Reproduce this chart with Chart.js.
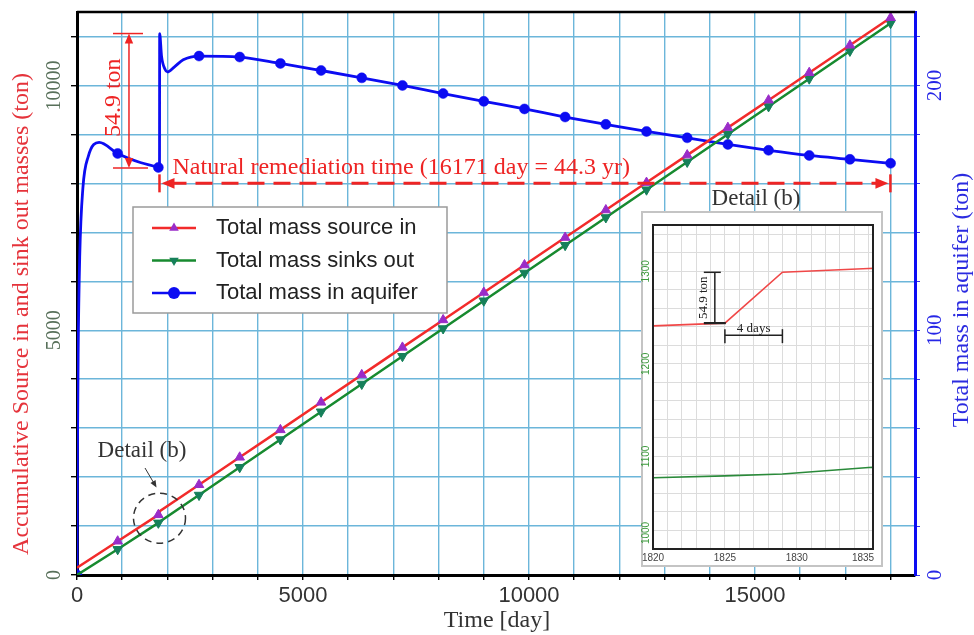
<!DOCTYPE html>
<html>
<head>
<meta charset="utf-8">
<script src="https://cdn.jsdelivr.net/npm/chart.js@4.4.1/dist/chart.umd.min.js"></script>
<style>
  body { margin: 0; background: #fff; }
  #wrap { position: relative; width: 974px; height: 635px; }
  #mainChart { position: absolute; left: 0; top: 0; }
  #detailChart { position: absolute; left: 641px; top: 211px; }
</style>
</head>
<body>
<div id="wrap">
  <canvas id="mainChart" width="974" height="635"></canvas>
  <canvas id="detailChart" width="242" height="356"></canvas>
</div>
<script>
// time axis (days) shared by the source-in and sink-out curves
const days = [0, 900, 1800, 1820, 1825, 1829, 1835, 2700, 3600, 4500, 5400, 6300, 7200, 8100, 9000, 9900, 10800, 11700, 12600, 13500, 14400, 15300, 16200, 17100, 18000];
// accumulated masses, ton
const sourceIn = [150, 690, 1229, 1241, 1244, 1299, 1303, 1843, 2404, 2965, 3527, 4088, 4649, 5210, 5771, 6332, 6893, 7455, 8016, 8577, 9138, 9699, 10260, 10821, 11383];
const sinksOut = [0, 525, 1065, 1077, 1079, 1081, 1088, 1633, 2200, 2767, 3334, 3901, 4468, 5035, 5602, 6169, 6736, 7303, 7870, 8437, 9004, 9571, 10138, 10705, 11272];

// mass stored in the aquifer, ton (right axis)
const aquiferDays = [0, 10, 25, 60, 130, 250, 490, 900, 1400, 1800, 1825, 1829, 1870, 1950, 2000, 2150, 2350, 2700, 3600, 4500, 5400, 6300, 7200, 8100, 9000, 9900, 10800, 11700, 12600, 13500, 14400, 15300, 16200, 17100, 18000];
const aquiferMass = [0, 50, 90, 130, 158, 171, 176.7, 172.2, 168.5, 166.5, 166.3, 221.2, 212.0, 206.5, 205.5, 207.5, 210.5, 212.0, 211.6, 209.0, 206.1, 203.1, 200.0, 196.7, 193.5, 190.4, 187.1, 184.1, 181.2, 178.6, 175.9, 173.5, 171.4, 169.8, 168.2];

// days that carry a symbol
const markerDays = [900, 1800, 2700, 3600, 4500, 5400, 6300, 7200, 8100, 9000, 9900, 10800, 11700, 12600, 13500, 14400, 15300, 16200, 17100, 18000];

// tick labels
const dayTickLabels = [0, 5000, 10000, 15000];
const massTickLabels = [0, 5000, 10000];
const aquiferTickLabels = [0, 100, 200];
const detailDayLabels = [1820, 1825, 1830, 1835];
const detailMassLabels = [1000, 1100, 1200, 1300];

// source pulse and remediation period
const jumpDay = 1825;
const jumpEndDay = 1829;
const jumpTon = 54.9;
const remediationDays = 16171;
const remediationYears = 44.3;
const arrowLevel = 8000;

const serif = '"Liberation Serif", "Times New Roman", serif';
const sans = '"Liberation Sans", Arial, sans-serif';
const gridBlue = 'rgb(108, 182, 218)';
const redLine = '#f22b2b';
const greenLine = '#178a2f';
const blueLine = '#0c0cf2';
const annotRed = '#ee2424';

function range(start, stop, step) {
  const out = [];
  for (let v = start; v <= stop + 1e-9; v += step) out.push(v);
  return out;
}

const toXY = (xs, ys) => xs.map((x, i) => ({ x: x, y: ys[i] }));

function rotatedText(ctx, text, x, y, font, color) {
  ctx.save();
  ctx.translate(x, y);
  ctx.rotate(-Math.PI / 2);
  ctx.font = font;
  ctx.fillStyle = color;
  ctx.textAlign = 'center';
  ctx.textBaseline = 'middle';
  ctx.fillText(text, 0, 0);
  ctx.restore();
}

function plainText(ctx, text, x, y, font, color, align) {
  ctx.font = font;
  ctx.fillStyle = color;
  ctx.textAlign = align || 'center';
  ctx.textBaseline = 'middle';
  ctx.fillText(text, x, y);
}

// filled arrow head with its tip at (x, y), pointing along angle
function arrowHead(ctx, x, y, angle, size, color) {
  ctx.save();
  ctx.translate(x, y);
  ctx.rotate(angle);
  ctx.fillStyle = color;
  ctx.beginPath();
  ctx.moveTo(0, 0);
  ctx.lineTo(-size, -size * 0.42);
  ctx.lineTo(-size, size * 0.42);
  ctx.closePath();
  ctx.fill();
  ctx.restore();
}

function line(ctx, x1, y1, x2, y2) {
  ctx.beginPath();
  ctx.moveTo(x1, y1);
  ctx.lineTo(x2, y2);
  ctx.stroke();
}

function drawMarker(ctx, style, x, y, r, color) {
  ctx.fillStyle = color;
  ctx.beginPath();
  if (style === 'circle') {
    ctx.arc(x, y, r, 0, Math.PI * 2);
  } else {
    const dir = style === 'down' ? -1 : 1;
    ctx.moveTo(x, y - dir * r);
    ctx.lineTo(x + r * 0.87, y + dir * r * 0.5);
    ctx.lineTo(x - r * 0.87, y + dir * r * 0.5);
    ctx.closePath();
  }
  ctx.fill();
}

const markerRadius = (r, extra) => (c) => {
  const d = c.raw && c.raw.x;
  return markerDays.includes(d) || (extra && extra.includes(d)) ? r : 0;
};

const legendRows = [
  { style: 'up', fill: '#9a2cc8' },
  { style: 'down', fill: '#16805a' },
  { style: 'circle', fill: blueLine }
];

const mainDecor = {
  id: 'mainDecor',
  afterDraw(chart) {
    const ctx = chart.ctx;
    const area = chart.chartArea;
    const xs = chart.scales.x, ys = chart.scales.y, ys2 = chart.scales.y2;
    ctx.save();

    // top frame
    ctx.strokeStyle = '#000';
    ctx.lineWidth = 2.5;
    line(ctx, area.left, area.top, area.right, area.top);

    // vertical tick labels
    massTickLabels.forEach(v => rotatedText(ctx, String(v), 55, ys.getPixelForValue(v), '20px ' + serif, '#58705a'));
    aquiferTickLabels.forEach(v => rotatedText(ctx, String(v), 935, ys2.getPixelForValue(v), '21px ' + serif, '#2626e6'));

    // axis titles
    rotatedText(ctx, 'Accumulative Source in and sink out masses (ton)', 22, 314, '24px ' + serif, '#e5333b');
    rotatedText(ctx, 'Total mass in aquifer (ton)', 962, 300, '24px ' + serif, '#2b2be0');
    plainText(ctx, 'Time [day]', 497, 621, '24px ' + serif, '#333');

    // jump of the aquifer mass at the source pulse
    const before = aquiferMass[aquiferDays.indexOf(jumpDay)];
    const after = aquiferMass[aquiferDays.indexOf(jumpEndDay)];
    const jx = xs.getPixelForValue(1150);
    const yTop = ys2.getPixelForValue(after);
    const yBot = ys2.getPixelForValue(before);
    ctx.strokeStyle = annotRed;
    ctx.lineWidth = 1.5;
    line(ctx, jx, yTop + 6, jx, yBot - 6);
    line(ctx, jx - 16, yTop, jx + 14, yTop);
    line(ctx, jx - 16, yBot, jx + 19, yBot);
    arrowHead(ctx, jx, yTop, -Math.PI / 2, 10, annotRed);
    arrowHead(ctx, jx, yBot, Math.PI / 2, 10, annotRed);
    rotatedText(ctx, jumpTon + ' ton', jx - 15, (yTop + yBot) / 2 - 3, '24px ' + serif, annotRed);

    // natural remediation period
    const ay = ys.getPixelForValue(arrowLevel);
    const x1 = xs.getPixelForValue(jumpDay);
    const x2 = xs.getPixelForValue(jumpDay + remediationDays);
    ctx.lineWidth = 3;
    ctx.setLineDash([17, 9]);
    line(ctx, x1 + 10, ay, x2 - 10, ay);
    ctx.setLineDash([]);
    arrowHead(ctx, x1 + 2, ay, Math.PI, 13, annotRed);
    arrowHead(ctx, x2 - 2, ay, 0, 13, annotRed);
    ctx.lineWidth = 2.5;
    line(ctx, x1, ay - 9, x1, ay + 9);
    line(ctx, x2, ay - 9, x2, ay + 9);
    plainText(ctx, 'Natural remediation time (' + remediationDays + ' day = ' + remediationYears + ' yr)',
      x1 + 13, ay - 16, '24px ' + serif, annotRed, 'left');

    // legend
    ctx.fillStyle = '#fff';
    ctx.fillRect(133, 207, 314, 106);
    ctx.strokeStyle = '#9a9a9a';
    ctx.lineWidth = 1.5;
    ctx.strokeRect(133, 207, 314, 106);
    chart.data.datasets.forEach((ds, i) => {
      const ry = 228 + i * 32.5;
      ctx.strokeStyle = ds.borderColor;
      ctx.lineWidth = 2.5;
      line(ctx, 152, ry, 196, ry);
      drawMarker(ctx, legendRows[i].style, 174, ry, i === 2 ? 6 : 5.5, legendRows[i].fill);
      plainText(ctx, ds.label, 216, ry, '22px ' + sans, '#222', 'left');
    });

    // callout around the pulse
    const cx = xs.getPixelForValue(jumpDay);
    const cy = ys.getPixelForValue((sourceIn[days.indexOf(jumpDay)] + sinksOut[days.indexOf(jumpDay)]) / 2);
    ctx.strokeStyle = '#333';
    ctx.lineWidth = 1.5;
    ctx.setLineDash([7, 5]);
    ctx.beginPath();
    ctx.ellipse(cx, cy, 26, 25, 0, 0, Math.PI * 2);
    ctx.stroke();
    ctx.setLineDash([]);
    ctx.lineWidth = 1;
    line(ctx, 145, 468, 155, 485);
    arrowHead(ctx, 156.5, 487.5, Math.atan2(19, 11), 7, '#333');
    plainText(ctx, 'Detail (b)', 142, 451, '23px ' + serif, '#333');
    plainText(ctx, 'Detail (b)', 756, 199, '23px ' + serif, '#333');

    ctx.restore();
  }
};

new Chart(document.getElementById('mainChart'), {
  type: 'line',
  data: {
    datasets: [
      {
        label: 'Total mass source in',
        data: toXY(days, sourceIn),
        yAxisID: 'y',
        borderColor: redLine,
        borderWidth: 2.5,
        pointStyle: 'triangle',
        pointBackgroundColor: '#9a2cc8',
        pointBorderColor: '#9a2cc8',
        pointBorderWidth: 1,
        pointRadius: markerRadius(5.5),
        tension: 0
      },
      {
        label: 'Total mass sinks out',
        data: toXY(days, sinksOut),
        yAxisID: 'y',
        borderColor: greenLine,
        borderWidth: 2.5,
        pointStyle: 'triangle',
        pointRotation: 180,
        pointBackgroundColor: '#16805a',
        pointBorderColor: '#16805a',
        pointBorderWidth: 1,
        pointRadius: markerRadius(5.5),
        tension: 0
      },
      {
        label: 'Total mass in aquifer',
        data: toXY(aquiferDays, aquiferMass),
        yAxisID: 'y2',
        borderColor: blueLine,
        borderWidth: 2.8,
        pointStyle: 'circle',
        pointBackgroundColor: blueLine,
        pointBorderColor: blueLine,
        pointBorderWidth: 0.5,
        pointRadius: markerRadius(5, [0]),
        cubicInterpolationMode: 'monotone'
      }
    ]
  },
  options: {
    responsive: false,
    animation: false,
    layout: { padding: { top: 12, left: 0, right: 0, bottom: 0 } },
    scales: {
      x: {
        type: 'linear',
        min: 0,
        max: 18540,
        afterBuildTicks: s => { s.ticks = range(0, 18000, 1000).map(v => ({ value: v })); },
        afterFit: s => { s.height = 60; },
        ticks: {
          autoSkip: false,
          maxRotation: 0,
          padding: 3,
          color: '#333',
          font: { family: sans, size: 22 },
          callback: v => dayTickLabels.includes(v) ? String(v) : ''
        },
        grid: { color: gridBlue, lineWidth: 1.4, tickLength: 5, tickColor: '#000' },
        border: { color: '#000', width: 3 }
      },
      y: {
        position: 'left',
        min: 0,
        max: 11500,
        afterBuildTicks: s => { s.ticks = range(0, 11000, 1000).map(v => ({ value: v })); },
        afterFit: s => { s.width = 77; },
        ticks: { display: false },
        grid: { color: gridBlue, lineWidth: 1.4, tickLength: 6, tickColor: '#000' },
        border: { color: '#000', width: 3 }
      },
      y2: {
        position: 'right',
        min: 0,
        max: 230,
        afterBuildTicks: s => { s.ticks = range(0, 220, 20).map(v => ({ value: v })); },
        afterFit: s => { s.width = 59; },
        ticks: { display: false },
        grid: { drawOnChartArea: false, tickLength: 5, tickColor: '#3a3ae8', color: gridBlue },
        border: { color: blueLine, width: 3 }
      }
    },
    plugins: {
      legend: { display: false },
      tooltip: { enabled: false }
    }
  },
  plugins: [mainDecor]
});

// ---- detail (b): source pulse between day 1820 and 1835 ----
const detailDecor = {
  id: 'detailDecor',
  beforeDraw(chart) {
    const ctx = chart.ctx;
    ctx.save();
    ctx.fillStyle = '#fff';
    ctx.fillRect(0, 0, chart.width, chart.height);
    ctx.strokeStyle = '#c4c4c4';
    ctx.lineWidth = 2;
    ctx.strokeRect(1, 1, chart.width - 2, chart.height - 2);
    ctx.restore();
  },
  afterDraw(chart) {
    const ctx = chart.ctx;
    const area = chart.chartArea;
    const xs = chart.scales.x, ys = chart.scales.y;
    ctx.save();
    ctx.strokeStyle = '#222';
    ctx.lineWidth = 2;
    ctx.strokeRect(area.left, area.top, area.right - area.left, area.bottom - area.top);

    detailMassLabels.forEach(v => {
      const py = Math.min(ys.getPixelForValue(v), area.bottom - 16);
      rotatedText(ctx, String(v), 5.5, py, '10px ' + sans, '#3c9a3c');
    });
    detailDayLabels.forEach(v => {
      let px = xs.getPixelForValue(v);
      px = Math.min(px, chart.width - 20);
      plainText(ctx, String(v), px, area.bottom + 9, '10px ' + sans, '#444');
    });

    // pulse height
    const before = sourceIn[days.indexOf(jumpDay)];
    const bx = xs.getPixelForValue(1824.3);
    const top = ys.getPixelForValue(before + jumpTon);
    const bot = ys.getPixelForValue(before);
    ctx.strokeStyle = '#222';
    ctx.lineWidth = 1.5;
    line(ctx, bx, top, bx, bot);
    line(ctx, bx - 11, top, bx + 6, top);
    ctx.lineWidth = 2.2;
    line(ctx, bx - 11, bot, bx + 11, bot);
    rotatedText(ctx, jumpTon + ' ton', bx - 11, (top + bot) / 2, '13px ' + serif, '#222');

    // pulse duration
    const dx1 = xs.getPixelForValue(jumpDay);
    const dx2 = xs.getPixelForValue(jumpEndDay);
    const dy = ys.getPixelForValue(1231);
    ctx.lineWidth = 1.5;
    line(ctx, dx1, dy, dx2, dy);
    line(ctx, dx1, dy - 6, dx1, dy + 8);
    line(ctx, dx2, dy - 6, dx2, dy + 8);
    plainText(ctx, (jumpEndDay - jumpDay) + ' days', (dx1 + dx2) / 2, dy - 7, '13px ' + serif, '#222');
    ctx.restore();
  }
};

new Chart(document.getElementById('detailChart'), {
  type: 'line',
  data: {
    datasets: [
      { data: toXY(days, sourceIn), borderColor: '#f04848', borderWidth: 1.6, pointRadius: 0, tension: 0 },
      { data: toXY(days, sinksOut), borderColor: '#2a8a3a', borderWidth: 1.6, pointRadius: 0, tension: 0 }
    ]
  },
  options: {
    responsive: false,
    animation: false,
    layout: { padding: { left: 12, right: 10, top: 14, bottom: 18 } },
    scales: {
      x: {
        type: 'linear',
        min: 1820,
        max: 1835.3,
        afterBuildTicks: s => { s.ticks = range(1820, 1835, 1).map(v => ({ value: v })); },
        afterFit: s => { s.height = 0; },
        ticks: { display: false },
        grid: { color: '#dcdcdc', lineWidth: 1, drawTicks: false },
        border: { display: false }
      },
      y: {
        min: 1000,
        max: 1350,
        afterBuildTicks: s => { s.ticks = range(1000, 1340, 20).map(v => ({ value: v })); },
        afterFit: s => { s.width = 0; },
        ticks: { display: false },
        grid: { color: '#dcdcdc', lineWidth: 1, drawTicks: false },
        border: { display: false }
      }
    },
    plugins: {
      legend: { display: false },
      tooltip: { enabled: false }
    }
  },
  plugins: [detailDecor]
});
</script>
</body>
</html>
